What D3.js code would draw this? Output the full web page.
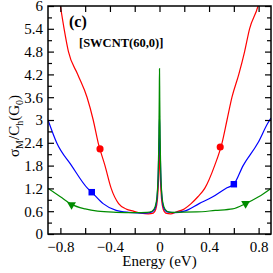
<!DOCTYPE html>
<html>
<head>
  <style>
    body { margin: 0; padding: 0; background: white; }
  </style>
</head>
<body>
  <div id="chart"></div>
  <script src="https://d3js.org/d3.v7.min.js"></script>
  <script>
    // energy (eV) / sigma values
    const redE = [-0.80, -0.77, -0.735, -0.66, -0.585, -0.535, -0.495, -0.44, -0.39, -0.33, -0.27, -0.21, -0.15, -0.09, -0.05, -0.03, -0.017, -0.008, -0.003, 0,
                  0.003, 0.008, 0.017, 0.03, 0.05, 0.09, 0.135, 0.2, 0.255, 0.31, 0.365, 0.445, 0.505, 0.545, 0.585, 0.64, 0.687, 0.727, 0.795, 0.81];
    const redV = [6.0, 5.4, 4.8, 4.2, 3.6, 3.0, 2.4, 1.8, 1.2, 0.8, 0.66, 0.6, 0.55, 0.53, 0.55, 0.65, 0.9, 1.4, 2.0, 2.6,
                  2.0, 1.4, 0.9, 0.65, 0.55, 0.53, 0.58, 0.66, 0.8, 0.98, 1.2, 1.8, 2.4, 3.0, 3.6, 4.2, 4.8, 5.4, 6.0, 6.2];

    const blueE = [-0.9, -0.83, -0.71, -0.58, -0.547, -0.455, -0.35, -0.25, -0.12, -0.06, -0.035, -0.02, -0.01, -0.004, 0,
                   0.004, 0.01, 0.02, 0.035, 0.06, 0.12, 0.2, 0.32, 0.43, 0.535, 0.60, 0.675, 0.795, 0.875, 0.9];
    const blueV = [3.0, 2.4, 1.8, 1.2, 1.1, 0.8, 0.62, 0.57, 0.55, 0.58, 0.68, 0.95, 1.6, 2.4, 3.1,
                   2.4, 1.6, 0.95, 0.68, 0.58, 0.56, 0.6, 0.8, 0.98, 1.2, 1.31, 1.8, 2.4, 2.92, 3.05];

    const greenE = [-0.9, -0.8, -0.71, -0.6, -0.5, -0.35, -0.2, -0.1, -0.06, -0.035, -0.02, -0.01, -0.005, -0.002, 0,
                    0.002, 0.005, 0.01, 0.02, 0.035, 0.06, 0.1, 0.3, 0.45, 0.59, 0.695, 0.8, 0.9];
    const greenV = [1.2, 0.98, 0.78, 0.66, 0.6, 0.57, 0.56, 0.57, 0.6, 0.72, 1.0, 1.7, 2.6, 3.6, 4.35,
                    3.6, 2.6, 1.7, 1.0, 0.72, 0.6, 0.57, 0.58, 0.62, 0.66, 0.8, 0.98, 1.2];

    // marker positions
    const redMarkE = [-0.48, 0.49];
    const redMarkV = [2.24, 2.29];
    const blueMarkE = [-0.547, 0.60];
    const blueMarkV = [1.10, 1.31];
    const greenMarkE = [-0.71, 0.695];
    const greenMarkV = [0.77, 0.80];

    const xTicks = [-0.8, -0.4, 0, 0.4, 0.8];
    const xMinor = [-0.6, -0.2, 0.2, 0.6];
    const yTicks = [0, 0.6, 1.2, 1.8, 2.4, 3, 3.6, 4.2, 4.8, 5.4, 6];
    const yMinor = [0.3, 0.9, 1.5, 2.1, 2.7, 3.3, 3.9, 4.5, 5.1, 5.7];

    const FONT = 'Liberation Serif, serif';
    const W = 273, H = 273;
    const mLeft = 48, mRight = 271, mTop = 6, mBottom = 234;

    const x = d3.scaleLinear().domain([-0.9, 0.9]).range([mLeft, mRight]);
    const y = d3.scaleLinear().domain([0, 6]).range([mBottom, mTop]);

    const svg = d3.select('#chart').append('svg')
      .attr('width', W).attr('height', H)
      .attr('font-family', FONT);

    svg.append('clipPath').attr('id', 'clip')
      .append('rect').attr('x', mLeft).attr('y', mTop)
      .attr('width', mRight - mLeft).attr('height', mBottom - mTop);

    const zip = (a, b) => a.map((e, i) => [e, b[i]]);
    const line = d3.line().x(d => x(d[0])).y(d => y(d[1])).curve(d3.curveMonotoneX);

    const series = [
      { e: redE, v: redV, color: '#ff0000', me: redMarkE, mv: redMarkV, sym: d3.symbolCircle, size: 40 },
      { e: blueE, v: blueV, color: '#0000ff', me: blueMarkE, mv: blueMarkV, sym: d3.symbolSquare, size: 42 },
      { e: greenE, v: greenV, color: '#008c00', me: greenMarkE, mv: greenMarkV, sym: d3.symbolTriangle, size: 34 }
    ];

    const plot = svg.append('g').attr('clip-path', 'url(#clip)');
    series.forEach(s => {
      plot.append('path')
        .datum(zip(s.e, s.v))
        .attr('d', line)
        .attr('fill', 'none')
        .attr('stroke', s.color)
        .attr('stroke-width', 1.2);
    });
    series.forEach(s => {
      svg.selectAll(null)
        .data(zip(s.me, s.mv))
        .enter().append('path')
        .attr('d', d3.symbol().type(s.sym).size(s.size))
        .attr('transform', d => `translate(${x(d[0])},${y(d[1])})` + (s.sym === d3.symbolTriangle ? ' rotate(180)' : ''))
        .attr('fill', s.color);
    });

    // axes: ticks inward on all four sides
    const axStyle = g => {
      g.attr('font-family', FONT).attr('font-size', 15);
      g.select('.domain').remove();
      g.selectAll('line').attr('stroke', '#000').attr('stroke-width', 1.2);
      g.selectAll('text').attr('fill', '#000');
    };

    svg.append('g').attr('transform', `translate(0,${mBottom})`)
      .call(d3.axisBottom(x).tickValues(xTicks).tickSizeInner(-6).tickSizeOuter(0).tickPadding(7)
        .tickFormat(d => d === 0 ? '0' : d3.format('.1f')(d)))
      .call(axStyle);
    svg.append('g').attr('transform', `translate(0,${mBottom})`)
      .call(d3.axisBottom(x).tickValues(xMinor).tickSizeInner(-6).tickSizeOuter(0).tickFormat(''))
      .call(axStyle);
    svg.append('g').attr('transform', `translate(0,${mTop})`)
      .call(d3.axisTop(x).tickValues(xTicks.concat(xMinor)).tickSizeInner(-6).tickSizeOuter(0).tickFormat(''))
      .call(axStyle);

    svg.append('g').attr('transform', `translate(${mLeft},0)`)
      .call(d3.axisLeft(y).tickValues(yTicks).tickSizeInner(-6).tickSizeOuter(0).tickPadding(5)
        .tickFormat(d => d3.format('~g')(d)))
      .call(axStyle);
    svg.append('g').attr('transform', `translate(${mLeft},0)`)
      .call(d3.axisLeft(y).tickValues(yMinor).tickSizeInner(-4).tickSizeOuter(0).tickFormat(''))
      .call(axStyle);
    svg.append('g').attr('transform', `translate(${mRight},0)`)
      .call(d3.axisRight(y).tickValues(yTicks).tickSizeInner(-6).tickSizeOuter(0).tickFormat(''))
      .call(axStyle);
    svg.append('g').attr('transform', `translate(${mRight},0)`)
      .call(d3.axisRight(y).tickValues(yMinor).tickSizeInner(-4).tickSizeOuter(0).tickFormat(''))
      .call(axStyle);

    // frame
    svg.append('rect')
      .attr('x', mLeft).attr('y', mTop)
      .attr('width', mRight - mLeft).attr('height', mBottom - mTop)
      .attr('fill', 'none').attr('stroke', '#000').attr('stroke-width', 1.5);

    // labels
    svg.append('text').attr('x', 69).attr('y', 27)
      .attr('font-size', 16).attr('font-weight', 'bold').text('(c)');
    svg.append('text').attr('x', 79).attr('y', 47)
      .attr('font-size', 12.5).attr('font-weight', 'bold').text('[SWCNT(60,0)]');

    svg.append('text').attr('x', (mLeft + mRight) / 2).attr('y', 266)
      .attr('text-anchor', 'middle').attr('font-size', 15).text('Energy (eV)');

    const yl = svg.append('text')
      .attr('transform', 'translate(19,126) rotate(-90)')
      .attr('text-anchor', 'middle').attr('font-size', 15);
    yl.append('tspan').text('σ');
    yl.append('tspan').attr('font-size', 10).attr('dy', 4).text('M');
    yl.append('tspan').attr('dy', -4).text('/C');
    yl.append('tspan').attr('font-size', 10).attr('dy', 4).text('h');
    yl.append('tspan').attr('dy', -4).text('(G');
    yl.append('tspan').attr('font-size', 10).attr('dy', 4).text('0');
    yl.append('tspan').attr('dy', -4).text(')');
  </script>
</body>
</html>
